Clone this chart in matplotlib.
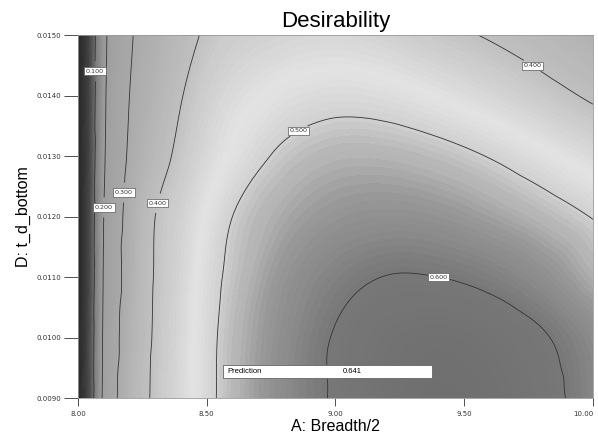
import numpy as np
import matplotlib
matplotlib.use('Agg')
import matplotlib.pyplot as plt
import matplotlib.tri as mtri
from matplotlib.colors import LinearSegmentedColormap
from matplotlib.patches import Rectangle

# grid values
a_vals = [8.0, 8.05, 8.1, 8.2, 8.3, 8.4, 8.5, 8.6, 8.8, 9.0, 9.2, 9.4, 9.6, 9.8, 10.0]
d_vals = [0.009, 0.010, 0.011, 0.012, 0.013, 0.014, 0.015]

desir_0090 = [0.0, 0.07, 0.215, 0.35, 0.41, 0.449, 0.487, 0.52, 0.57, 0.605, 0.635, 0.648, 0.64, 0.617, 0.578]
desir_0100 = [0.0, 0.07, 0.21, 0.34, 0.407, 0.447, 0.486, 0.518, 0.566, 0.603, 0.628, 0.637, 0.627, 0.605, 0.57]
desir_0110 = [0.0, 0.065, 0.205, 0.33, 0.404, 0.442, 0.482, 0.51, 0.555, 0.585, 0.601, 0.60, 0.588, 0.565, 0.53]
desir_0120 = [0.0, 0.065, 0.20, 0.325, 0.40, 0.435, 0.47, 0.50, 0.535, 0.555, 0.562, 0.557, 0.542, 0.522, 0.498]
desir_0130 = [0.0, 0.06, 0.19, 0.31, 0.37, 0.415, 0.448, 0.472, 0.508, 0.525, 0.525, 0.515, 0.498, 0.475, 0.45]
desir_0140 = [0.0, 0.06, 0.185, 0.30, 0.35, 0.397, 0.43, 0.452, 0.475, 0.485, 0.48, 0.465, 0.445, 0.42, 0.392]
desir_0150 = [0.0, 0.06, 0.18, 0.29, 0.335, 0.375, 0.408, 0.425, 0.44, 0.445, 0.435, 0.415, 0.395, 0.37, 0.34]

levels = [0.1, 0.2, 0.3, 0.4, 0.5, 0.6]
label_pos = [(8.06, 0.0144), (8.09, 0.01215), (8.16, 0.0124), (8.30, 0.01223),
             (8.85, 0.01347), (9.40, 0.01098), (9.77, 0.01453)]
prediction = 0.641

Z = np.array([desir_0090, desir_0100, desir_0110, desir_0120,
              desir_0130, desir_0140, desir_0150])
A, D = np.meshgrid(a_vals, d_vals)
nx, ny = len(a_vals), len(d_vals)

# two triangles per grid cell
tris = []
for j in range(ny - 1):
    for i in range(nx - 1):
        p = j * nx + i
        tris.append([p, p + 1, p + nx + 1])
        tris.append([p, p + nx + 1, p + nx])
tri = mtri.Triangulation(A.ravel(), D.ravel(), tris)
interp = mtri.CubicTriInterpolator(tri, Z.ravel(), kind='geom')
refiner = mtri.UniformTriRefiner(tri)
tri_f, z_f = refiner.refine_field(Z.ravel(), triinterpolator=interp, subdiv=4)

# grey version of the blue-green-yellow-red map
vmax = 0.66
stops = [(0.00, 0.15), (0.04, 0.24), (0.08, 0.36), (0.12, 0.50), (0.20, 0.62), (0.30, 0.66),
         (0.40, 0.75), (0.47, 0.89), (0.50, 0.82), (0.55, 0.60), (0.60, 0.47), (0.66, 0.43)]
cmap = LinearSegmentedColormap.from_list('dx_grey', [(v / vmax, (g, g, g)) for v, g in stops])

fig = plt.figure(figsize=(5.98, 4.41), dpi=100)
ax = fig.add_axes([0.1304, 0.0975, 0.8612, 0.8231])

ax.tricontourf(tri_f, z_f, levels=np.linspace(-0.01, 0.67, 140), cmap=cmap, vmin=0, vmax=vmax)
cs = ax.tricontour(tri_f, z_f, levels=levels, colors='0.2', linewidths=0.6)
labels = ax.clabel(cs, fmt='%.3f', fontsize=4.6, manual=label_pos, inline=True, inline_spacing=1)
for t in labels:
    t.set_rotation(0)
    t.set_bbox(dict(boxstyle='square,pad=0.25', fc='white', ec='0.35', lw=0.5))

# prediction flag box
ax.add_patch(Rectangle((8.565, 0.00933), 0.81, 0.00022, fc='white', ec='0.4', lw=0.6, zorder=5))
ax.text(8.58, 0.009442, 'Prediction', fontsize=5.5, va='center', zorder=6, family='Liberation Sans')
ax.text(9.03, 0.009442, f'{prediction:.3f}', fontsize=5.5, va='center', zorder=6, family='Liberation Sans')

ax.set_xlim(8.0, 10.0)
ax.set_ylim(0.009, 0.015)
ax.set_xticks([8.0, 8.5, 9.0, 9.5, 10.0])
ax.set_xticklabels(['8.00', '8.50', '9.00', '9.50', '10.00'])
ax.get_xticklabels()[-1].set_horizontalalignment('right')
ax.set_yticks(d_vals)
ax.set_yticklabels([f'{v:.4f}' for v in d_vals])
ax.tick_params(axis='y', length=10, width=0.6, labelsize=5, pad=2, colors='0.2')
ax.tick_params(axis='x', length=6, width=0.6, labelsize=5, pad=3, colors='0.2')
for s in ax.spines.values():
    s.set_color('0.6')
    s.set_linewidth(0.6)

ax.set_title('Desirability', fontsize=16, family='Liberation Sans', pad=6)
ax.set_xlabel('A: Breadth/2', fontsize=11.5, family='Liberation Sans', labelpad=2)
ax.set_ylabel('D: t_d_bottom', fontsize=11.5, family='Liberation Sans', labelpad=4)

fig.savefig('out.png', dpi=100)
